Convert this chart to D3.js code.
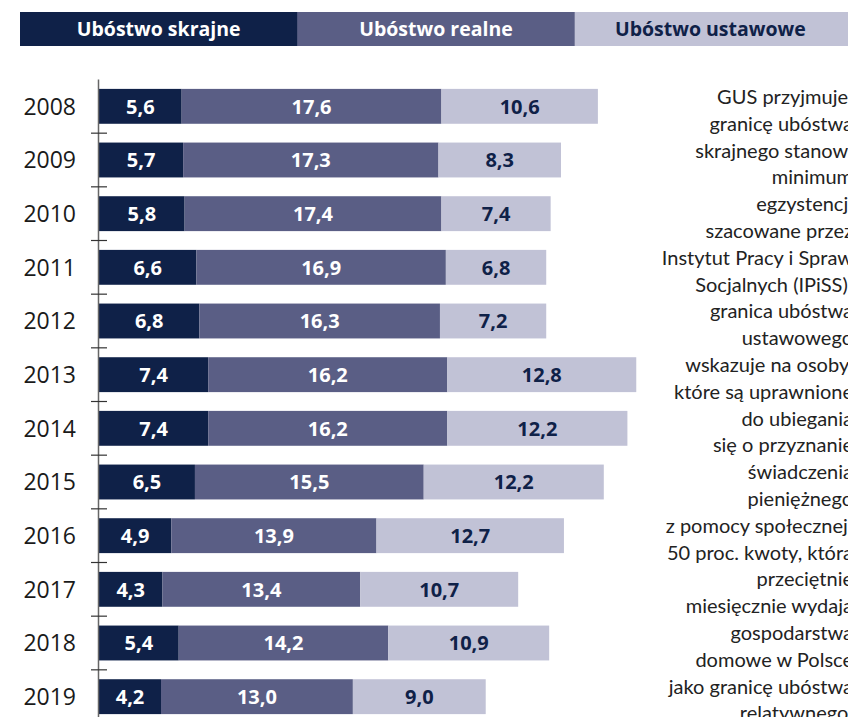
<!DOCTYPE html>
<html>
<head>
<meta charset="utf-8">
<script src="https://cdn.jsdelivr.net/npm/d3@7"></script>
<style>
  body { margin: 0; background: #fff; }
  svg { display: block; }
</style>
</head>
<body>
<div id="visContainer"></div>
<script>
// data
const years = ["2008", "2009", "2010", "2011", "2012", "2013", "2014", "2015", "2016", "2017", "2018", "2019"];
const skrajne = [5.6, 5.7, 5.8, 6.6, 6.8, 7.4, 7.4, 6.5, 4.9, 4.3, 5.4, 4.2];
const realne = [17.6, 17.3, 17.4, 16.9, 16.3, 16.2, 16.2, 15.5, 13.9, 13.4, 14.2, 13.0];
const ustawowe = [10.6, 8.3, 7.4, 6.8, 7.2, 12.8, 12.2, 12.2, 12.7, 10.7, 10.9, 9.0];
const seriesNames = ["Ubóstwo skrajne", "Ubóstwo realne", "Ubóstwo ustawowe"];

const noteLines = [
  "GUS przyjmuje:", "granicę ubóstwa", "skrajnego stanowi", "minimum", "egzystencji",
  "szacowane przez", "Instytut Pracy i Spraw", "Socjalnych (IPiSS);", "granica ubóstwa",
  "ustawowego", "wskazuje na osoby,", "które są uprawnione", "do ubiegania",
  "się o przyznanie", "świadczenia", "pieniężnego", "z pomocy społecznej;",
  "50 proc. kwoty, którą", "przeciętnie", "miesięcznie wydają", "gospodarstwa",
  "domowe w Polsce", "jako granicę ubóstwa", "relatywnego."
];

const colors = ["#0f2148", "#5a5e85", "#c1c2d6"];
const textColors = ["#ffffff", "#ffffff", "#0f2148"];

const width = 848;
const height = 717;

const svg = d3.select("#visContainer")
  .append("svg")
  .attr("width", width)
  .attr("height", height);

// header legend
const legendX = d3.scaleBand().domain(seriesNames).range([20, 852]);
const legend = svg.append("g");
legend.selectAll("rect")
  .data(seriesNames)
  .join("rect")
  .attr("x", d => legendX(d))
  .attr("y", 12)
  .attr("width", legendX.bandwidth() + 0.5)
  .attr("height", 34)
  .attr("fill", (d, i) => colors[i]);
legend.selectAll("text")
  .data(seriesNames)
  .join("text")
  .attr("x", d => legendX(d) + legendX.bandwidth() / 2 - (d === seriesNames[2] ? 3 : 0))
  .attr("y", 29)
  .attr("dy", "0.36em")
  .attr("text-anchor", "middle")
  .attr("font-family", "Open Sans, sans-serif")
  .attr("font-weight", 700)
  .attr("font-size", 19.5)
  .attr("fill", (d, i) => textColors[i])
  .text(d => d);

// stacked data
const rows = years.map((y, i) => ({ year: y, skrajne: skrajne[i], realne: realne[i], ustawowe: ustawowe[i] }));
const keys = ["skrajne", "realne", "ustawowe"];
const stacked = d3.stack().keys(keys)(rows);

const yScale = d3.scaleBand()
  .domain(years)
  .range([79.5, 723.5])
  .paddingInner(0.35)
  .paddingOuter(0.175);

const xScale = d3.scaleLinear()
  .domain([0, 40])
  .range([99, 99 + 40 * 14.76]);

const layers = svg.append("g")
  .selectAll("g")
  .data(stacked)
  .join("g")
  .attr("fill", (d, i) => colors[i]);

layers.selectAll("rect")
  .data(d => d)
  .join("rect")
  .attr("x", d => xScale(d[0]))
  .attr("y", d => yScale(d.data.year))
  .attr("width", d => xScale(d[1]) - xScale(d[0]))
  .attr("height", yScale.bandwidth());

const labels = svg.append("g")
  .selectAll("g")
  .data(stacked)
  .join("g")
  .attr("fill", (d, i) => textColors[i]);

labels.selectAll("text")
  .data(d => d)
  .join("text")
  .attr("x", d => (xScale(d[0]) + xScale(d[1])) / 2)
  .attr("y", d => yScale(d.data.year) + yScale.bandwidth() / 2)
  .attr("dy", "0.36em")
  .attr("text-anchor", "middle")
  .attr("font-family", "Open Sans, sans-serif")
  .attr("font-weight", 700)
  .attr("font-size", 20)
  .text(d => (d[1] - d[0]).toFixed(1).replace(".", ","));

// y axis: line, ticks between bars, year labels
const axis = svg.append("g");
axis.append("line")
  .attr("x1", 98.5).attr("x2", 98.5)
  .attr("y1", yScale.range()[0]).attr("y2", yScale.range()[1])
  .attr("stroke", "#666")
  .attr("stroke-width", 1.5);

const gap = yScale.step() * yScale.paddingInner() / 2;
axis.selectAll(".tick")
  .data(years.slice(1))
  .join("line")
  .attr("class", "tick")
  .attr("x1", 91).attr("x2", 107)
  .attr("y1", d => yScale(d) - gap)
  .attr("y2", d => yScale(d) - gap)
  .attr("stroke", "#333")
  .attr("stroke-width", 1.2);

axis.selectAll("text")
  .data(years)
  .join("text")
  .attr("x", 76)
  .attr("y", d => yScale(d) + yScale.bandwidth() / 2)
  .attr("dy", "0.36em")
  .attr("text-anchor", "end")
  .attr("font-family", "Open Sans, sans-serif")
  .attr("font-size", 23)
  .attr("fill", "#1a1a1a")
  .text(d => d);

// side note (right aligned, slightly past the edge as in the reference)
svg.append("g")
  .selectAll("text")
  .data(noteLines)
  .join("text")
  .attr("x", 853)
  .attr("y", (d, i) => 104 + i * 26.8)
  .attr("text-anchor", "end")
  .attr("font-family", "Lato, sans-serif")
  .attr("font-size", 20)
  .attr("fill", "#222")
  .text(d => d);
</script>
</body>
</html>
